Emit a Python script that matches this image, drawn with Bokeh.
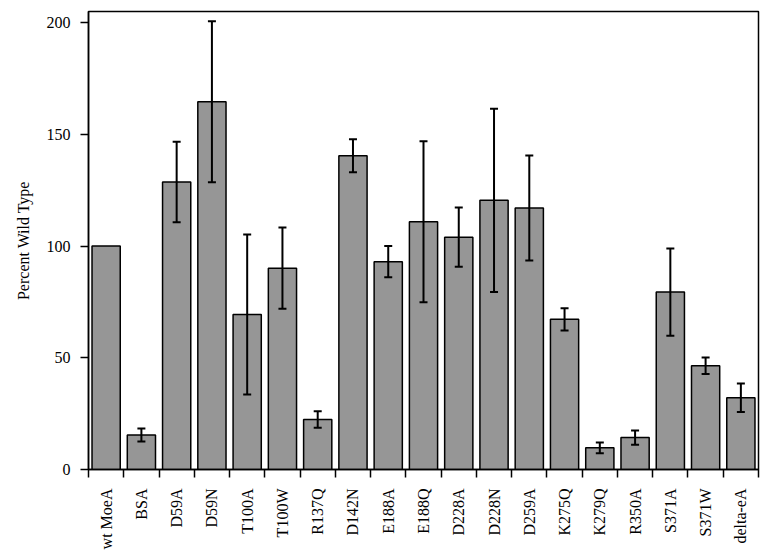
import numpy as np
from bokeh.plotting import figure
from bokeh.models import (ColumnDataSource, Range1d, FixedTicker, CustomJSTickFormatter,
                          Whisker, TeeHead)
from bokeh.embed import file_html
from bokeh.resources import INLINE

categories = ["wt MoeA", "BSA", "D59A", "D59N", "T100A", "T100W", "R137Q", "D142N",
              "E188A", "E188Q", "D228A", "D228N", "D259A", "K275Q", "K279Q", "R350A",
              "S371A", "S371W", "delta-eA"]
percent = [100, 15.4, 128.7, 164.6, 69.4, 90.1, 22.4, 140.4, 93.0, 110.9,
           104.0, 120.5, 117.0, 67.2, 9.7, 14.3, 79.4, 46.4, 32.1]
error = [0, 2.9, 18.0, 36.0, 35.8, 18.2, 3.7, 7.4, 7.0, 36.0,
         13.3, 41.0, 23.5, 5.0, 2.4, 3.2, 19.5, 3.7, 6.4]
y_ticks = [0, 50, 100, 150, 200]

n = len(categories)
xs = np.arange(n) + 0.5
vals = np.array(percent, dtype=float)
errs = np.array(error, dtype=float)

src = ColumnDataSource(dict(x=xs, top=vals, name=categories))
mask = errs > 0
err_src = ColumnDataSource(dict(x=xs[mask], upper=(vals + errs)[mask], lower=(vals - errs)[mask]))

FONT = "Liberation Serif"

p = figure(width=763, height=553, output_backend="svg", toolbar_location=None,
           x_range=Range1d(0, n), y_range=Range1d(0, 205),
           min_border_left=88, min_border_right=5, min_border_top=11, min_border_bottom=84)
p.background_fill_color = "white"
p.border_fill_color = "white"
p.outline_line_color = "black"
p.outline_line_width = 1.5
p.xgrid.visible = False
p.ygrid.visible = False

p.vbar(x="x", top="top", bottom=0, width=0.8, source=src,
       fill_color="#969696", line_color="black", line_width=1.5)

wh = Whisker(base="x", upper="upper", lower="lower", source=err_src,
             line_color="black", line_width=2, level="overlay",
             upper_head=TeeHead(size=8, line_width=2, line_color="black"),
             lower_head=TeeHead(size=8, line_width=2, line_color="black"))
p.add_layout(wh)

# x axis
xa = p.xaxis[0]
xa.ticker = FixedTicker(ticks=list(xs), minor_ticks=list(range(n + 1)))
xa.formatter = CustomJSTickFormatter(args=dict(names=categories),
                                     code="return names[Math.round(tick - 0.5)];")
xa.major_label_orientation = np.pi / 2
xa.major_tick_out = 0
xa.major_tick_in = 0
xa.minor_tick_out = 8
xa.minor_tick_in = 0
xa.minor_tick_line_color = "black"
xa.minor_tick_line_width = 1.5
xa.axis_line_color = "black"
xa.axis_line_width = 1.5
xa.major_label_standoff = 11
xa.major_label_text_font = FONT
xa.major_label_text_font_size = "16px"
xa.major_label_text_color = "black"

# y axis
ya = p.yaxis[0]
ya.ticker = FixedTicker(ticks=y_ticks, minor_ticks=[])
ya.major_tick_out = 8
ya.major_tick_in = 0
ya.major_tick_line_color = "black"
ya.major_tick_line_width = 1.5
ya.minor_tick_out = 0
ya.minor_tick_in = 0
ya.axis_line_color = "black"
ya.axis_line_width = 1.5
ya.major_label_standoff = 10
ya.major_label_text_font = FONT
ya.major_label_text_font_size = "16px"
ya.major_label_text_color = "black"
ya.axis_label = "Percent Wild Type"
ya.axis_label_text_font = FONT
ya.axis_label_text_font_size = "16px"
ya.axis_label_text_font_style = "normal"
ya.axis_label_text_color = "black"
ya.axis_label_standoff = 12

open("out.html", "w").write(file_html(p, INLINE))
